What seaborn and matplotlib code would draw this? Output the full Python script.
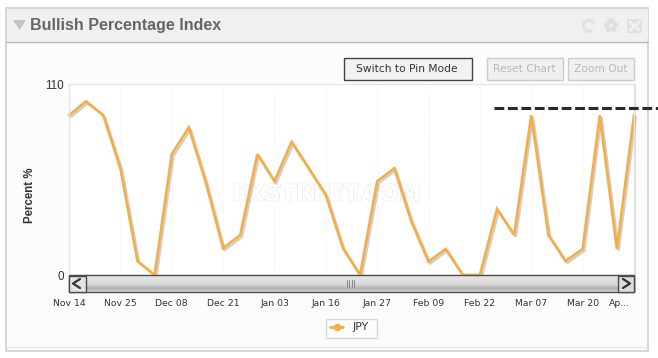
import numpy as np
import pandas as pd
import seaborn as sns
import matplotlib
matplotlib.use("Agg")
import matplotlib.pyplot as plt
import matplotlib.patheffects as pe
from matplotlib.patches import Rectangle, Polygon, Circle, Arc
from matplotlib.transforms import ScaledTranslation

W, H = 658, 358
values = [92, 100, 92, 61.5, 8, 0, 69.5, 85, 53, 15.4, 23, 69.6, 54, 76.6, 61.4, 46, 15.4, 0,
          54, 61.5, 30.7, 7.7, 15, 0, 0, 38, 23, 92, 23, 8, 15, 92, 15, 92]
tick_positions = [0, 3, 6, 9, 12, 15, 18, 21, 24, 27, 30, 33]
tick_labels = ["Nov 14", "Nov 25", "Dec 08", "Dec 21", "Jan 03", "Jan 16",
               "Jan 27", "Feb 09", "Feb 22", "Mar 07", "Mar 20", "Ap..."]
series_name = "JPY"
threshold = 96
threshold_span = [24.85, 34.4]
y_ticks = [0, 110]

ORANGE = "#f5ae45"
df = pd.DataFrame({"idx": np.arange(len(values)), "value": values, "series": series_name})

sns.set_theme(style="white")
plt.rcParams["font.family"] = ["DejaVu Sans"]
fig = plt.figure(figsize=(W / 100, H / 100), dpi=100, facecolor="white")

def R(a, x0, y0, x1, y1, **kw):
    a.add_patch(Rectangle((x0, y0), x1 - x0, y1 - y0, **kw))

bg = fig.add_axes([0, 0, 1, 1], zorder=0)
bg.set_xlim(0, W); bg.set_ylim(H, 0); bg.axis("off")
R(bg, 6, 8, 648, 351, fc="#fcfcfc", ec="#d0d0d0", lw=1.2)
R(bg, 6.5, 8.5, 647.5, 41, fc="#f0f0f0", ec="none")
bg.plot([6, 648], [41.5, 41.5], color="#b4b4b4", lw=1)
bg.plot([7, 647], [346.5, 346.5], color="#e6e6e6", lw=1)
bg.add_patch(Polygon([(13, 20), (26, 20), (19.5, 30)], fc="#c4c4c4", ec="none"))
bg.text(30, 25.5, "Bullish Percentage Index", family="Liberation Sans", weight="bold",
        fontsize=11.5, color="#666666", va="center", ha="left")

# header icons
bg.add_patch(Arc((589, 26), 11, 11, theta1=50, theta2=340, ec="#e2e2e2", lw=2.2))
bg.add_patch(Circle((611, 25.5), 5.5, fc="#dedede", ec="#dedede", lw=2.5, ls=(0, (1, 0.8))))
bg.add_patch(Circle((611, 25.5), 2, fc="#f0f0f0", ec="none"))
R(bg, 627, 19, 642, 33, fc="#e0e0e0", ec="none")
bg.plot([630, 639], [22, 30], color="#f0f0f0", lw=2)
bg.plot([630, 639], [30, 22], color="#f0f0f0", lw=2)

# buttons
R(bg, 343.5, 57.5, 471.5, 79.5, fc="#f2f2f2", ec="#444444", lw=1)
bg.text(407, 68.5, "Switch to Pin Mode", fontsize=7.7, color="#333333", ha="center", va="center")
R(bg, 486.5, 57.5, 562.5, 79.5, fc="#f0f0f0", ec="#cccccc", lw=1)
bg.text(524.5, 68.5, "Reset Chart", fontsize=7.7, color="#b8b8b8", ha="center", va="center")
R(bg, 567.5, 57.5, 633.5, 79.5, fc="#f0f0f0", ec="#cccccc", lw=1)
bg.text(600.5, 68.5, "Zoom Out", fontsize=7.7, color="#b8b8b8", ha="center", va="center")

# plot shadow
R(bg, 69, 84, 636, 293, fc="#bbbbbb", ec="none", alpha=0.5)

ax = fig.add_axes([69 / W, 1 - 275 / H, 565 / W, 191 / H], zorder=1, facecolor="white")
sns.lineplot(data=df, x="idx", y="value", ax=ax, color=ORANGE, lw=1.9, legend=False,
             clip_on=False, solid_joinstyle="miter",
             path_effects=[pe.SimpleLineShadow(offset=(1.3, -1.3), shadow_color="#888888", alpha=0.4, linewidth=1.7),
                           pe.Normal()])
ax.set_xlim(0, 33); ax.set_ylim(0, 110)
ax.set_xticks(tick_positions)
ax.set_xticklabels(tick_labels, fontsize=6.7, color="#333333")
ax.set_yticks(y_ticks)
ax.set_yticklabels([str(v) for v in y_ticks], fontsize=8.4, color="#333333", family="Liberation Sans")
ax.tick_params(axis="both", length=0)
ax.tick_params(axis="x", pad=17)
ax.tick_params(axis="y", pad=3.5)
ax.grid(axis="x", color="#ececec", lw=0.6, ls=(0, (1, 1.5)))
ax.set_axisbelow(True)
for s in ax.spines.values():
    s.set_color("#e4e4e4"); s.set_linewidth(1)
ax.set_xlabel("")
ax.set_ylabel("")
last = ax.get_xticklabels()[-1]
last.set_transform(last.get_transform() + ScaledTranslation(-15 / 100, 0, fig.dpi_scale_trans))

ax.plot(threshold_span, [threshold, threshold], color="#2a2a2a", lw=2.2, ls=(0, (3.2, 1.2)),
        clip_on=False, zorder=6)

ax.text(0.456, 0.421, "FXSTREET.COM", transform=ax.transAxes, fontsize=16, color="white",
        ha="center", va="center", weight="bold", zorder=1.5,
        path_effects=[pe.withStroke(linewidth=1.0, foreground="#e6e6e6"), pe.Normal()])

top = fig.add_axes([0, 0, 1, 1], zorder=2)
top.set_xlim(0, W); top.set_ylim(H, 0); top.axis("off"); top.patch.set_alpha(0)
grad = np.array([0.90, 0.90, 0.89, 0.88, 0.88, 0.87, 0.86, 0.85, 0.84, 0.80, 0.74, 0.70, 0.72, 0.78]).reshape(-1, 1)
top.imshow(grad, extent=(69, 634, 291, 275), cmap="gray", vmin=0, vmax=1, aspect="auto", zorder=1)
top.set_xlim(0, W); top.set_ylim(H, 0)
R(top, 69, 275, 634, 291.5, fc="none", ec="#4a4a4a", lw=1, zorder=2)
R(top, 69, 275.5, 85.5, 291.5, fc="#e4e4e4", ec="#4a4a4a", lw=1, zorder=2)
R(top, 618, 275.5, 634, 291.5, fc="#dcdcdc", ec="#4a4a4a", lw=1, zorder=2)
top.plot([80, 73, 80], [279, 283.5, 288], color="#333333", lw=1.6, zorder=3)
top.plot([623, 630, 623], [279, 283.5, 288], color="#333333", lw=1.6, zorder=3)
for gx in [346.5, 349, 351.5, 354]:
    top.plot([gx, gx], [280, 287], color="#888888", lw=0.7, zorder=3)

top.text(30, 195.5, "Percent %", rotation=90, family="Liberation Sans", weight="bold", fontsize=8.3,
         color="#333333", ha="center", va="center")

# legend
R(top, 325.5, 318.5, 376.5, 337.5, fc="#fcfcfc", ec="#d8d8d8", lw=1, zorder=2)
top.plot([330, 343], [327, 327], color=ORANGE, lw=2, zorder=3)
top.plot([336.5], [327], color=ORANGE, marker="o", ms=4.5, zorder=3)
top.text(352.5, 326.5, series_name, fontsize=7.8, color="#333333", ha="left", va="center", zorder=3)

fig.savefig("out.png", dpi=100)
